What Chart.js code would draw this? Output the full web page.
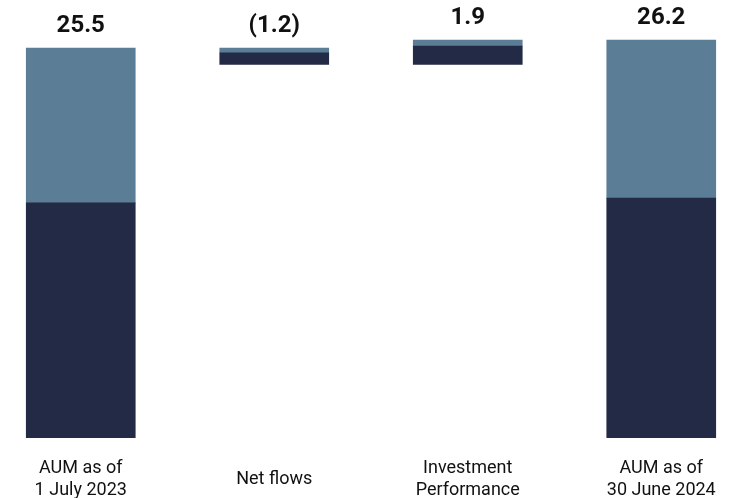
<!DOCTYPE html>
<html>
<head>
<meta charset="utf-8">
<script src="https://cdn.jsdelivr.net/npm/chart.js@4/dist/chart.umd.min.js"></script>
<style>
  html, body { margin: 0; padding: 0; background: #fff; overflow: hidden; }
  /* canvas is a bit wider than the window so the outer bars sit near the edges */
  #wrap { width: 774px; height: 498px; margin-left: -16px; }
</style>
</head>
<body>
<div id="wrap"><canvas id="aumChart"></canvas></div>
<script>
// Categories (multi-line labels)
const categories = [
    ['AUM as of', '1 July 2023'],
    ['Net flows'],
    ['Investment', 'Performance'],
    ['AUM as of', '30 June 2024']
];

// Invisible base for the floating waterfall steps
const baseValues = [0, 24.42, 24.42, 0];
// Dark (lower) component
const darkValues = [15.37, 0.77, 1.21, 15.69];
// Light (upper) component
const lightValues = [10.13, 0.31, 0.39, 10.33];

// Value labels shown above each bar
const valueLabels = ['25.5', '(1.2)', '1.9', '26.2'];

// Draws the value labels above the topmost segment of each bar
const topLabels = {
    id: 'topLabels',
    afterDatasetsDraw(chart) {
        const ctx = chart.ctx;
        const meta = chart.getDatasetMeta(2);
        ctx.save();
        ctx.font = 'bold 24px Roboto';
        ctx.fillStyle = '#111111';
        ctx.textAlign = 'center';
        ctx.textBaseline = 'alphabetic';
        meta.data.forEach((bar, i) => {
            ctx.fillText(valueLabels[i], bar.x, bar.y - 16);
        });
        ctx.restore();
    }
};

function drawChart() {
    const ctx = document.getElementById('aumChart').getContext('2d');
    new Chart(ctx, {
        type: 'bar',
        data: {
            labels: categories,
            datasets: [
                { label: 'base', data: baseValues, backgroundColor: 'rgba(0,0,0,0)' },
                { label: 'dark', data: darkValues, backgroundColor: '#222a46' },
                { label: 'light', data: lightValues, backgroundColor: '#5b7d96' }
            ]
        },
        options: {
            responsive: true,
            maintainAspectRatio: false,
            animation: false,
            layout: { padding: 0 },
            plugins: {
                legend: { display: false },
                tooltip: { enabled: false }
            },
            datasets: {
                bar: { barThickness: 109, borderWidth: 0 }
            },
            scales: {
                x: {
                    stacked: true,
                    grid: { display: false, drawTicks: false },
                    border: { display: false },
                    ticks: {
                        autoSkip: false,
                        maxRotation: 0,
                        padding: 30,
                        crossAlign: 'center',
                        color: '#111111',
                        font: { family: 'Roboto', size: 18, lineHeight: 1.26 }
                    },
                    afterFit(scale) { scale.height = 60; }
                },
                y: {
                    stacked: true,
                    display: false,
                    min: 0,
                    max: 28.64
                }
            }
        },
        plugins: [topLabels]
    });
}

window.onload = drawChart;
</script>
</body>
</html>
